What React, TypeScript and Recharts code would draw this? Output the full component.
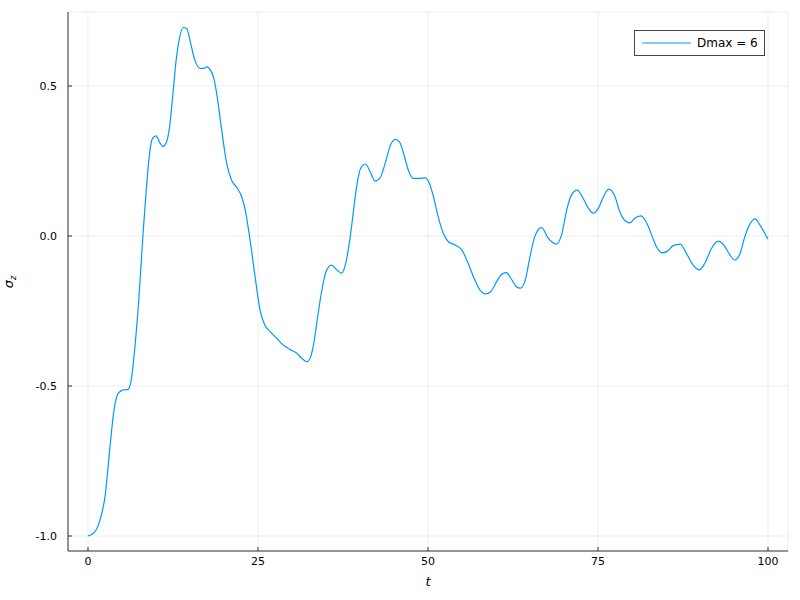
import React from "react";
import { LineChart, Line, XAxis, YAxis, CartesianGrid } from "recharts";

// time samples
const tValues = [
  0, 1.0, 1.76, 2.5, 3.24, 3.7, 4.46, 5.2, 5.9, 6.4, 6.9, 7.4, 8.1, 8.53, 9.0,
  9.5, 10.0, 10.5, 11.0, 11.5, 12.0, 12.45, 12.94, 13.4, 14.0, 14.5, 15.1, 15.7,
  16.5, 17.06, 17.5, 18.0, 18.5, 19.0, 19.66, 20.4, 21.1, 21.9, 22.6, 23.1, 23.8,
  24.6, 25.3, 26.0, 26.8, 27.75, 28.7, 29.7, 30.7, 31.6, 32.2, 32.75, 33.2, 33.7,
  34.4, 35.0, 35.8, 36.6, 37.3, 37.9, 38.5, 39.0, 39.5, 40.1, 40.8, 41.5, 42.2,
  42.9, 43.7, 44.4, 45.15, 45.8, 46.4, 47.1, 47.8, 48.8, 49.6, 50.2, 50.8, 51.5,
  52.25, 53.0, 54.0, 55.0, 55.9, 56.9, 57.7, 58.5, 59.2, 60.1, 60.8, 61.5, 62.3,
  63.0, 63.6, 64.3, 65.0, 65.7, 66.7, 67.7, 68.9, 69.7, 70.4, 71.1, 71.95, 72.8,
  73.6, 74.3, 75.05, 75.8, 76.6, 77.5, 78.2, 79.0, 79.7, 80.4, 81.3, 82.2, 82.9,
  83.6, 84.4, 85.1, 86.0, 87.1, 88.0, 89.0, 89.9, 90.7, 91.7, 92.7, 93.5, 94.4,
  95.1, 95.9, 96.6, 97.4, 98.1, 98.8, 99.8, 100,
];

// sigma_z for Dmax = 6
const sigmaZ = [
  -1.0, -0.986, -0.947, -0.869, -0.702, -0.602, -0.524, -0.513, -0.511, -0.474,
  -0.369, -0.236, 0.009, 0.142, 0.264, 0.326, 0.334, 0.314, 0.298, 0.311, 0.364,
  0.464, 0.581, 0.653, 0.695, 0.692, 0.642, 0.587, 0.559, 0.559, 0.564, 0.553,
  0.526, 0.464, 0.353, 0.242, 0.187, 0.161, 0.131, 0.09, -0.008, -0.14, -0.247,
  -0.297, -0.319, -0.341, -0.363, -0.378, -0.391, -0.411, -0.419, -0.402, -0.358,
  -0.28, -0.18, -0.119, -0.097, -0.113, -0.124, -0.091, -0.013, 0.076, 0.164,
  0.226, 0.24, 0.214, 0.183, 0.192, 0.242, 0.298, 0.322, 0.314, 0.276, 0.22,
  0.192, 0.192, 0.194, 0.176, 0.131, 0.064, 0.009, -0.019, -0.03, -0.047, -0.091,
  -0.147, -0.182, -0.193, -0.186, -0.152, -0.128, -0.122, -0.145, -0.169, -0.174,
  -0.147, -0.069, -0.002, 0.028, -0.008, -0.027, 0.009, 0.087, 0.137, 0.153,
  0.126, 0.092, 0.076, 0.092, 0.131, 0.156, 0.131, 0.081, 0.051, 0.044, 0.059,
  0.067, 0.042, 0.003, -0.036, -0.056, -0.052, -0.033, -0.027, -0.058, -0.097,
  -0.113, -0.091, -0.041, -0.017, -0.03, -0.063, -0.08, -0.058, -0.002, 0.042,
  0.057, 0.037, -0.002, -0.01,
];

const xTicks = [0, 25, 50, 75, 100];
const yTicks = [-1.0, -0.5, 0.0, 0.5];
const seriesName = "Dmax = 6";

const data = tValues.map((t, i) => ({ t, sz: sigmaZ[i] }));

const FONT = "'DejaVu Sans', sans-serif";
const LINE_COLOR = "#009AFA";
const AXIS_COLOR = "#333";

// legend drawn as an overlay so it doesn't eat into the plot area
function LegendBox() {
  return (
    <div
      style={{
        position: "absolute",
        left: 634,
        top: 30,
        border: "1px solid #444",
        background: "#fff",
        width: 131,
        height: 26,
        display: "flex",
        alignItems: "center",
        fontFamily: FONT,
        fontSize: 12,
        color: "#000",
        boxSizing: "border-box",
        whiteSpace: "nowrap",
      }}
    >
      <svg width={55} height={10} style={{ marginLeft: 7, flexShrink: 0 }}>
        <line x1={0} y1={5} x2={49} y2={5} stroke={LINE_COLOR} strokeWidth={1} />
      </svg>
      <span>{seriesName}</span>
    </div>
  );
}

export default function App() {
  return (
    <div style={{ position: "absolute", left: 0, top: 0, width: 800, height: 600, background: "#fff" }}>
      <LineChart
        width={800}
        height={600}
        data={data}
        margin={{ top: 12, right: 12, bottom: 0, left: 0 }}
      >
        <CartesianGrid stroke="#000" strokeOpacity={0.07} vertical horizontal />
        <XAxis
          dataKey="t"
          type="number"
          domain={[-2.94, 102.94]}
          ticks={xTicks}
          allowDataOverflow
          height={49}
          stroke={AXIS_COLOR}
          tickSize={-4}
          tickMargin={10}
          tick={{ fontSize: 11, fill: "#000", fontFamily: FONT }}
          label={() => (
            <text x={428} y={586} textAnchor="middle" fontFamily={FONT} fontStyle="italic" fontSize={13} fill="#000">
              t
            </text>
          )}
        />
        <YAxis
          type="number"
          domain={[-1.05, 0.7467]}
          ticks={yTicks}
          allowDataOverflow
          width={68}
          stroke={AXIS_COLOR}
          tickSize={-4}
          tickMargin={15}
          tickFormatter={(v: number) => v.toFixed(1)}
          tick={{ fontSize: 11, fill: "#000", fontFamily: FONT }}
          label={() => (
            <text
              x={13}
              y={282}
              transform="rotate(-90, 13, 282)"
              textAnchor="middle"
              fontFamily={FONT}
              fontSize={13}
              fontStyle="italic"
              fill="#000"
            >
              σ
              <tspan dy={3} fontSize={8}>
                z
              </tspan>
            </text>
          )}
        />
        <Line
          type="monotone"
          dataKey="sz"
          name={seriesName}
          stroke={LINE_COLOR}
          strokeWidth={1.2}
          dot={false}
          isAnimationActive={false}
        />
      </LineChart>
      <LegendBox />
    </div>
  );
}
